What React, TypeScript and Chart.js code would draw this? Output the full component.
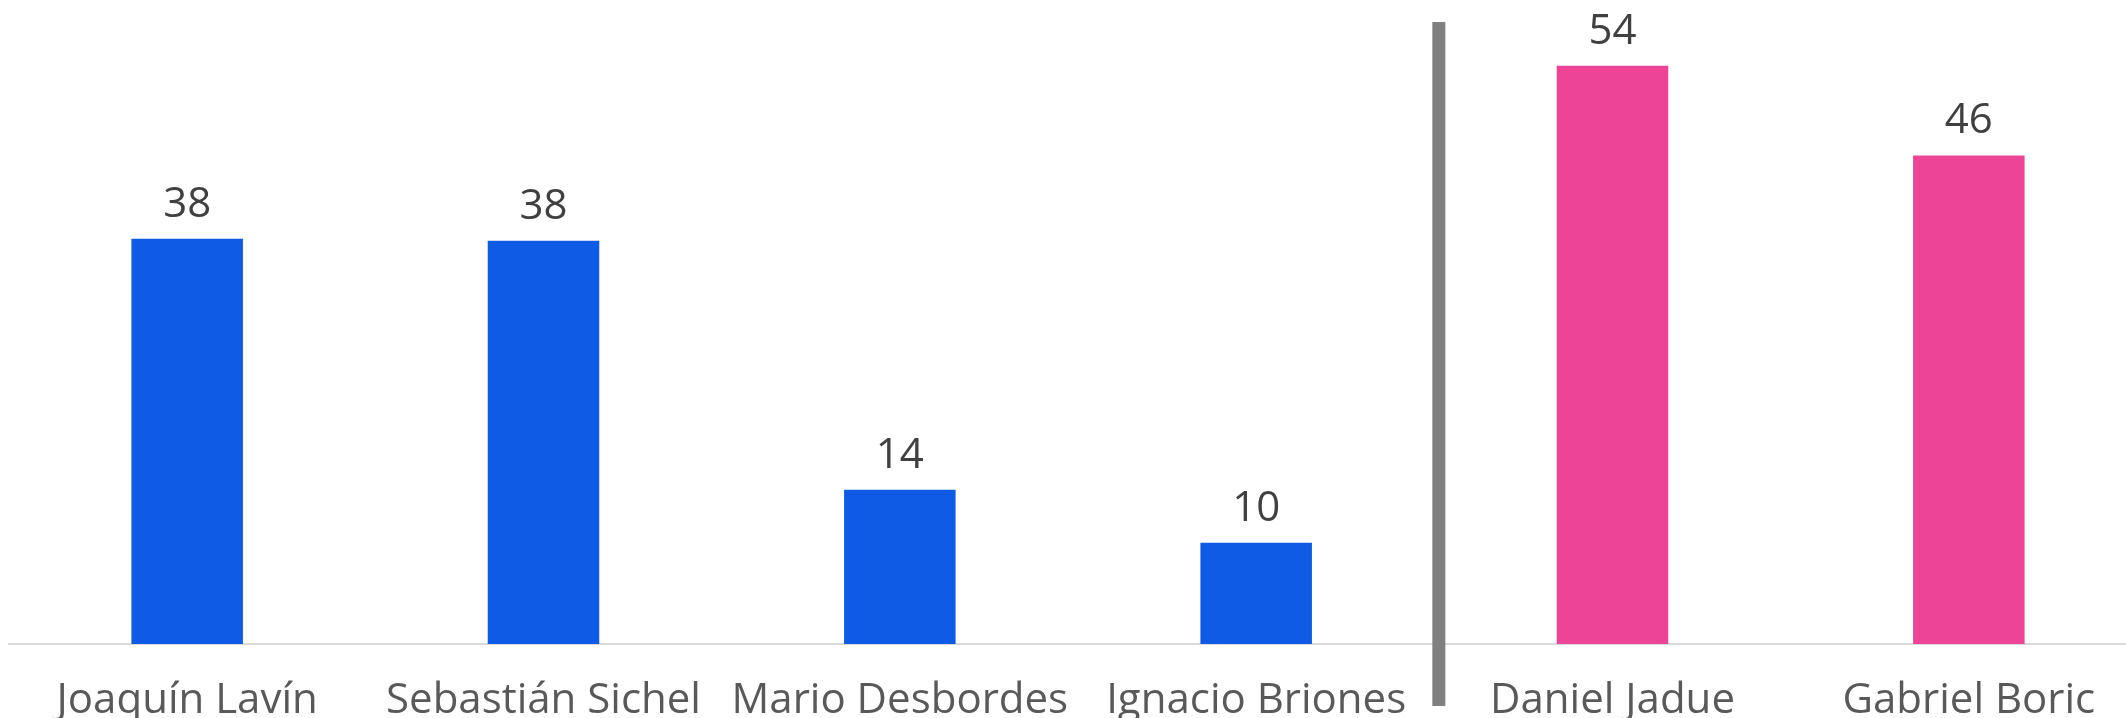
import React, { useEffect, useRef } from "react";
import { Chart, registerables } from "chart.js";

Chart.register(...registerables);

const categories = [
  "Joaquín Lavín",
  "Sebastián Sichel",
  "Mario Desbordes",
  "Ignacio Briones",
  "Daniel Jadue",
  "Gabriel Boric",
];
const values = [38.0, 37.8, 14.45, 9.5, 54.2, 45.8];
const barColors = ["#0F5BE6", "#0F5BE6", "#0F5BE6", "#0F5BE6", "#EE4498", "#EE4498"];
const dividerAfterIndex = 3.5;

const FONT = "'Open Sans', sans-serif";

const valueLabelPlugin = {
  id: "valueLabels",
  afterDatasetsDraw(chart: any) {
    const ctx = chart.ctx;
    const meta = chart.getDatasetMeta(0);
    ctx.save();
    ctx.font = `42px ${FONT}`;
    ctx.fillStyle = "#404040";
    ctx.textAlign = "center";
    ctx.textBaseline = "alphabetic";
    meta.data.forEach((bar: any, i: number) => {
      ctx.fillText(String(Math.round(values[i])), bar.x, bar.y - 22);
    });
    ctx.restore();
  },
};

const dividerPlugin = {
  id: "divider",
  afterDraw(chart: any) {
    const ctx = chart.ctx;
    const x = chart.scales.x.getPixelForValue(dividerAfterIndex) + 4.5;
    const { top, bottom } = chart.chartArea;
    ctx.save();
    ctx.fillStyle = "#808080";
    ctx.fillRect(x - 6.5, top + 18, 13, bottom - top - 18 + 62);
    ctx.restore();
  },
};

export default function App() {
  const ref = useRef<HTMLCanvasElement>(null);

  useEffect(() => {
    if (!ref.current) return;
    const chart = new Chart(ref.current, {
      type: "bar",
      data: {
        labels: categories,
        datasets: [
          {
            data: values,
            backgroundColor: barColors,
            borderWidth: 0,
            categoryPercentage: 1,
            barPercentage: 0.313,
          },
        ],
      },
      options: {
        responsive: false,
        animation: false,
        devicePixelRatio: 1,
        layout: { padding: { left: 9, right: 1, top: 4, bottom: 0 } },
        plugins: {
          legend: { display: false },
          tooltip: { enabled: false },
          title: { display: false },
        },
        scales: {
          x: {
            grid: { display: false, drawTicks: false },
            border: { display: true, color: "#D9D9D9", width: 2 },
            ticks: {
              color: "#595959",
              font: { family: FONT, size: 42 },
              padding: 32,
              maxRotation: 0,
              autoSkip: false,
            },
            afterFit(scale: any) {
              scale.height = 74;
            },
          },
          y: {
            display: false,
            min: 0,
            max: 60,
          },
        },
      },
      plugins: [valueLabelPlugin, dividerPlugin],
    });
    return () => chart.destroy();
  }, []);

  return (
    <div
      style={{
        position: "absolute",
        left: 0,
        top: 0,
        width: 2126,
        height: 718,
        overflow: "hidden",
        background: "#fff",
      }}
    >
      <canvas ref={ref} width={2148} height={718} style={{ display: "block" }} />
    </div>
  );
}
